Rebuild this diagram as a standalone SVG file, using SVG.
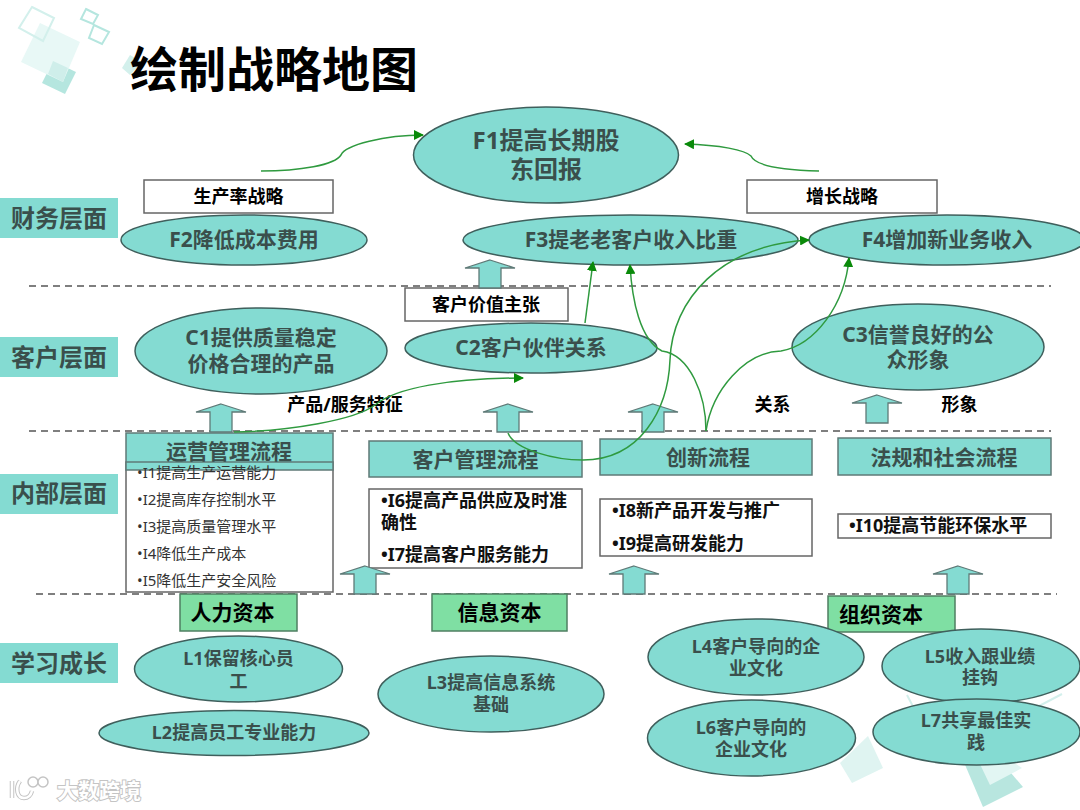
<svg xmlns="http://www.w3.org/2000/svg" width="1080" height="810" viewBox="0 0 1080 810">
<style>
text{font-family:"Noto Sans","Noto Sans CJK SC",sans-serif;font-weight:700;text-anchor:middle;fill:#000}
.e{fill:#84dbd2;stroke:#3f5f5c;stroke-width:1.5}
.t{fill:#84dbd2;stroke:#5f7a77;stroke-width:1.5}
.w{fill:#fff;stroke:#666;stroke-width:1.5}
.g{fill:#7fdfa3;stroke:#4f7f62;stroke-width:1.5}
.l{fill:#84dbd2}
.d{fill:#3a4f4c}
.s21{font-size:21px}.s18{font-size:18px}.s24{font-size:24px}
.li{font-size:18px;text-anchor:start;fill:#111}
.lt{font-size:15px;font-weight:400;text-anchor:start;fill:#333}
.c{fill:none;stroke:#2f9a3f;stroke-width:1.5}
.dash{stroke:#555;stroke-width:1.5;stroke-dasharray:7 5;fill:none}
.ba{fill:#84dbd2;stroke:#5f7a77;stroke-width:1.3}
.wm{font-size:21px;fill:#fff;stroke:#c4c4c4;stroke-width:2;paint-order:stroke;text-anchor:start}
.lg{fill:none;stroke:#c4c4c4;stroke-width:4.500}
.lw{fill:none;stroke:#fff;stroke-width:2.500}
</style>
<defs>
<marker id="ah" markerUnits="userSpaceOnUse" markerWidth="10" markerHeight="10" refX="9" refY="5" orient="auto"><path d="M0 0L10 5L0 10Z" fill="#0a8a0a"/></marker>
<path id="up" d="M0 0L25 8L11 8L11 28L-11 28L-11 8L-25 8Z"/>
<path id="lk" d="M12 781V798M20 781C15 788 17 798 24 798C28 798 31 795 32 791"/>
</defs>
<rect width="1080" height="810" fill="#fff"/>
<g id="decor">
<polygon points="53,61 76,72 65,94 42,83" fill="#b5e6df"/>
<polygon points="40,23 80,42 63,82 21,62" fill="#e8f8f6"/>
<polygon points="53,61 68,68 63,82 48,74" fill="#cfeeea"/>
<polygon points="32,7 54,18 43,41 19,28" fill="none" stroke="#d3f0ec" stroke-width="2"/>
<polygon points="86,9 98,15 93,24 81,19" fill="none" stroke="#b5e6df" stroke-width="2"/>
<polygon points="94,25 109,32 102,44 89,38" fill="none" stroke="#b5e6df" stroke-width="2"/>
<polygon points="130,55 122,68 130,75 142,62" fill="#d3f0ec"/>
<polygon points="868,736 883,768 852,783 840,763" fill="#dff4f1"/>
<polygon points="963,760 1000,760 1023,787 983,807" fill="#b8e6df"/>
<polygon points="978,760 990,785 1022,768 1010,760" fill="#e2f6f3"/>
<path d="M907 695L918 716M1062 694L1020 716" fill="none" stroke="#d3f0ec" stroke-width="2"/>
</g>
<text x="274" y="87" font-size="48">绘制战略地图</text>
<g id="layers">
<g id="lane-f"><rect x="0" y="198" width="118" height="40" class="l"/><text x="59" y="227" class="s24 d">财务层面</text></g>
<g id="lane-c"><rect x="0" y="337" width="118" height="40" class="l"/><text x="59" y="366" class="s24 d">客户层面</text></g>
<g id="lane-i"><rect x="0" y="474" width="118" height="40" class="l"/><text x="59" y="502" class="s24 d">内部层面</text></g>
<g id="lane-l"><rect x="0" y="643" width="118" height="40" class="l"/><text x="59" y="672" class="s24 d">学习成长</text></g>
<path class="dash" d="M29 286H1051M29 431H1051M36 594H1057"/>
</g>
<g id="F1"><ellipse cx="546" cy="155" rx="132.500" ry="48" class="e"/><text x="546" y="149" font-size="24" class="d">F1提高长期股</text><text x="546" y="178" font-size="24" class="d">东回报</text></g>
<g id="S1"><rect x="144" y="180" width="189" height="33" class="w"/><text x="238.500" y="203" class="s18">生产率战略</text></g>
<g id="S2"><rect x="747" y="180" width="190" height="33" class="w"/><text x="842" y="203" class="s18">增长战略</text></g>
<g id="F2"><ellipse cx="244" cy="240" rx="123" ry="25" class="e"/><text x="244" y="247" class="s21 d">F2降低成本费用</text></g>
<g id="F3"><ellipse cx="630.500" cy="240" rx="167.500" ry="25" class="e"/><text x="631" y="247" class="s21 d">F3提老老客户收入比重</text></g>
<g id="F4"><ellipse cx="947" cy="240" rx="138" ry="25" class="e"/><text x="947" y="247" class="s21 d">F4增加新业务收入</text></g>
<g id="S3"><rect x="405" y="288" width="163" height="33" class="w"/><text x="486" y="311" class="s18">客户价值主张</text></g>
<g id="C1"><ellipse cx="261" cy="351" rx="126" ry="43" class="e"/><text x="261" y="345" class="s21 d">C1提供质量稳定</text><text x="261" y="371" class="s21 d">价格合理的产品</text></g>
<g id="C2"><ellipse cx="531" cy="348" rx="126" ry="25" class="e"/><text x="531" y="355" class="s21 d">C2客户伙伴关系</text></g>
<g id="C3"><ellipse cx="918" cy="347" rx="126" ry="43" class="e"/><text x="918" y="342" class="s21 d">C3信誉良好的公</text><text x="918" y="367" class="s21 d">众形象</text></g>
<text x="345" y="411" class="s18">产品/服务特征</text>
<text x="772.500" y="411" class="s18">关系</text>
<text x="959.500" y="411" class="s18">形象</text>
<g id="P1">
<rect x="126" y="462" width="207" height="130" class="w"/>
<rect x="126" y="433" width="207" height="37" class="t"/>
<line x1="126" y1="462" x2="333" y2="462" stroke="#5f7a77" stroke-width="1.500"/>
<text x="229" y="459" class="s21 d">运营管理流程</text>
<text x="137" y="478" class="lt">•I1提高生产运营能力</text>
<text x="137" y="505" class="lt">•I2提高库存控制水平</text>
<text x="137" y="532" class="lt">•I3提高质量管理水平</text>
<text x="137" y="559" class="lt">•I4降低生产成本</text>
<text x="137" y="586" class="lt">•I5降低生产安全风险</text>
</g>
<g id="P2">
<rect x="369" y="441" width="213" height="36" class="t"/><text x="475.500" y="467" class="s21 d">客户管理流程</text>
<rect x="369" y="489" width="213" height="79" class="w"/>
<text x="381" y="507" class="li">•I6提高产品供应及时准</text><text x="381" y="529" class="li">确性</text><text x="381" y="561" class="li">•I7提高客户服务能力</text>
</g>
<g id="P3">
<rect x="600" y="439" width="212" height="36" class="t"/><text x="708" y="465" class="s21 d">创新流程</text>
<rect x="600" y="499" width="212" height="57" class="w"/>
<text x="612" y="517" class="li">•I8新产品开发与推广</text><text x="612" y="550" class="li">•I9提高研发能力</text>
</g>
<g id="P4">
<rect x="838" y="438" width="213" height="37" class="t"/><text x="944" y="465" class="s21 d">法规和社会流程</text>
<rect x="838" y="514" width="213" height="24" class="w"/>
<text x="849" y="532" class="li">•I10提高节能环保水平</text>
</g>
<g id="K1"><rect x="180" y="594" width="117" height="37" class="g"/><text x="232.500" y="620" class="s21">人力资本</text></g>
<g id="K2"><rect x="432" y="594" width="135" height="37" class="g"/><text x="499.500" y="620" class="s21">信息资本</text></g>
<g id="K3"><rect x="828" y="596" width="127" height="36" class="g"/><text x="881" y="622" class="s21">组织资本</text></g>
<g id="L1"><ellipse cx="238.500" cy="669" rx="104" ry="33" class="e"/><text x="238.500" y="665" class="s18 d">L1保留核心员</text><text x="238.500" y="688" class="s18 d">工</text></g>
<g id="L2"><ellipse cx="234" cy="733" rx="135" ry="22.500" class="e"/><text x="234" y="739" class="s18 d">L2提高员工专业能力</text></g>
<g id="L3"><ellipse cx="491" cy="694" rx="113" ry="38" class="e"/><text x="491" y="689" class="s18 d">L3提高信息系统</text><text x="491" y="711" class="s18 d">基础</text></g>
<g id="L4"><ellipse cx="756" cy="657" rx="108" ry="38" class="e"/><text x="756" y="653" class="s18 d">L4客户导向的企</text><text x="756" y="675" class="s18 d">业文化</text></g>
<g id="L5"><ellipse cx="981" cy="666" rx="99" ry="37" class="e"/><text x="980" y="663" class="s18 d">L5收入跟业绩</text><text x="980" y="684" class="s18 d">挂钩</text></g>
<g id="L6"><ellipse cx="751.500" cy="738" rx="104" ry="38" class="e"/><text x="751" y="734" class="s18 d">L6客户导向的</text><text x="751" y="756" class="s18 d">企业文化</text></g>
<g id="L7"><ellipse cx="976.500" cy="732" rx="103.500" ry="33" class="e"/><text x="976" y="727" class="s18 d">L7共享最佳实</text><text x="976" y="749" class="s18 d">践</text></g>
<g id="connectors">
<g class="ba">
<use href="#up" x="490" y="260"/>
<use href="#up" x="221" y="404"/>
<use href="#up" x="508" y="404"/>
<use href="#up" x="653" y="404"/>
<use href="#up" x="877" y="395"/>
<use href="#up" x="365" y="566"/>
<use href="#up" x="634" y="566"/>
<use href="#up" x="958" y="566"/>
</g>
<path class="c" marker-end="url(#ah)" d="M261 171C300 171 335 165 341 155C345 145 385 135 423 135"/>
<path class="c" marker-end="url(#ah)" d="M819 171C780 170 755 165 751 156C745 150 720 145 685 144"/>
<path class="c" marker-end="url(#ah)" d="M234 432C290 431 355 420 375 405C395 388 450 378 523 378"/>
<path class="c" marker-end="url(#ah)" d="M585 323L593 262"/>
<path class="c" marker-end="url(#ah)" d="M706 431C706 395 690 355 662 351C640 340 632 300 630 265"/>
<path class="c" marker-end="url(#ah)" d="M706 431C712 390 745 352 781 351C815 345 845 305 849 258"/>
<path class="c" marker-end="url(#ah)" d="M508 433C515 450 555 460 583 460C640 460 668 410 670 360C672 300 720 245 809 240"/>
</g>
<g id="watermark">
<use href="#lk" class="lg"/>
<use href="#lk" class="lw"/>
<circle cx="33" cy="782" r="5" fill="#fff" stroke="#c4c4c4" stroke-width="1.500"/>
<circle cx="43" cy="782" r="5" fill="#fff" stroke="#c4c4c4" stroke-width="1.500"/>
<text x="57" y="798" class="wm">大数跨境</text>
</g>
</svg>
